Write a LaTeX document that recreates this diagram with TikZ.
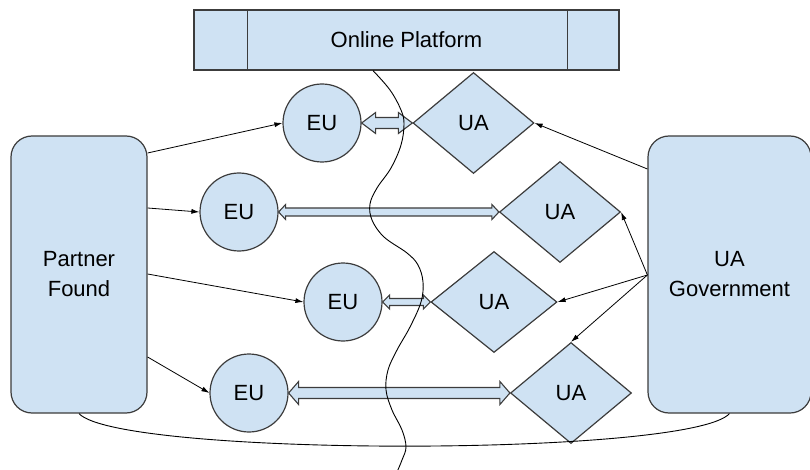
\documentclass[tikz,border=0pt]{standalone}
\usepackage{fontspec}
\setmainfont{Liberation Sans}
\usetikzlibrary{shapes.geometric,arrows.meta,calc}
\definecolor{boxblue}{HTML}{CFE2F3}
\definecolor{outline}{HTML}{3C3C3C}

\begin{document}
\begin{tikzpicture}[x=1pt, y=-1pt,
    every node/.style={font=\fontsize{22}{30}\selectfont, align=center},
    party/.style={draw=outline, fill=boxblue, line width=1.2pt, rounded corners=21pt, minimum height=277pt},
    eu/.style={circle, draw=outline, fill=boxblue, line width=1.2pt, minimum size=78pt, inner sep=0pt},
    ua/.style={diamond, draw=outline, fill=boxblue, line width=1.2pt, minimum width=121pt, minimum height=101pt, inner sep=0pt},
    link/.style={-{Latex[length=8pt,width=5pt]}, line width=0.8pt},
    fatarrow/.style n args={3}{draw=outline, fill=boxblue, line width=1.1pt,
        to path={-- ($(\tikztostart)+(#3,-#1)$) -- ($(\tikztostart)+(#3,-#2)$)
                 -- ($(\tikztotarget)+(-#3,-#2)$) -- ($(\tikztotarget)+(-#3,-#1)$)
                 -- (\tikztotarget)
                 -- ($(\tikztotarget)+(-#3,#1)$) -- ($(\tikztotarget)+(-#3,#2)$)
                 -- ($(\tikztostart)+(#3,#2)$) -- ($(\tikztostart)+(#3,#1)$) -- cycle}}
]
    \useasboundingbox (0,0) rectangle (810,470);

    % Platform on top
    \node[draw=outline, fill=boxblue, line width=1.2pt, minimum width=425pt, minimum height=60pt] (op) at (406.5,40) {Online Platform};
    \draw[outline, line width=1.2pt] ([xshift=54pt]op.north west) -- ([xshift=54pt]op.south west);
    \draw[outline, line width=1.2pt] ([xshift=-52pt]op.north east) -- ([xshift=-52pt]op.south east);

    % The two sides
    \node[party, minimum width=136pt] (pf) at (79,274.5) {Partner\\Found};
    \node[party, minimum width=163pt] (gov) at (729.5,274.5) {UA\\Government};

    % Pairs
    \node[eu] (eu1) at (322,123) {EU};
    \node[eu] (eu2) at (239,212) {EU};
    \node[eu] (eu3) at (343,302) {EU};
    \node[eu] (eu4) at (249,393) {EU};
    \node[ua] (ua1) at (473.5,123) {UA};
    \node[ua] (ua2) at (560,212) {UA};
    \node[ua, minimum width=126pt] (ua3) at (494,302) {UA};
    \node[ua] (ua4) at (571,393) {UA};

    % Exchange between partners
    \path[fatarrow={10.5}{5.5}{14}] (eu1.east) to (ua1.west);
    \path[fatarrow={7.5}{4}{7}] (eu2.east) to (ua2.west);
    \path[fatarrow={7}{3.5}{7}] (eu3.east) to (ua3.west);
    \path[fatarrow={11.5}{5.5}{10}] (eu4.east) to (ua4.west);

    % Partner Found to EU
    \draw[link] (pf.east |- 0,153) -- (eu1.west);
    \draw[link] (pf.east |- 0,208) -- (eu2.west);
    \draw[link] (pf.east |- 0,274) -- (eu3.west);
    \draw[link] (pf.east |- 0,357) -- (eu4.west);

    % Government to UA
    \coordinate (fan) at (gov.west |- 0,275);
    \draw[link] (gov.west |- 0,169) -- (ua1.east);
    \draw[link] (fan) -- (ua2.east);
    \draw[link] (fan) -- (ua3.east);
    \draw[link] (fan) -- (ua4.north);

    % Bottom link
    \draw[line width=0.9pt] (pf.south) .. controls (120,457) and (690,457) .. (gov.south);

    % Border line
    \coordinate (cut) at (op.south -| 373,0);
    \draw[line width=0.9pt] plot[smooth, tension=0.6] coordinates {(cut) (390,90) (401,110) (404,124) (401,145) (391,168) (377,188) (370,204) (372,220) (384,237) (407,253) (418,265) (423,282) (421,302) (410,327) (397,350) (388,370) (386,390) (392,410) (402,430) (406,447) (402,460) (397,472)};
\end{tikzpicture}
\end{document}
